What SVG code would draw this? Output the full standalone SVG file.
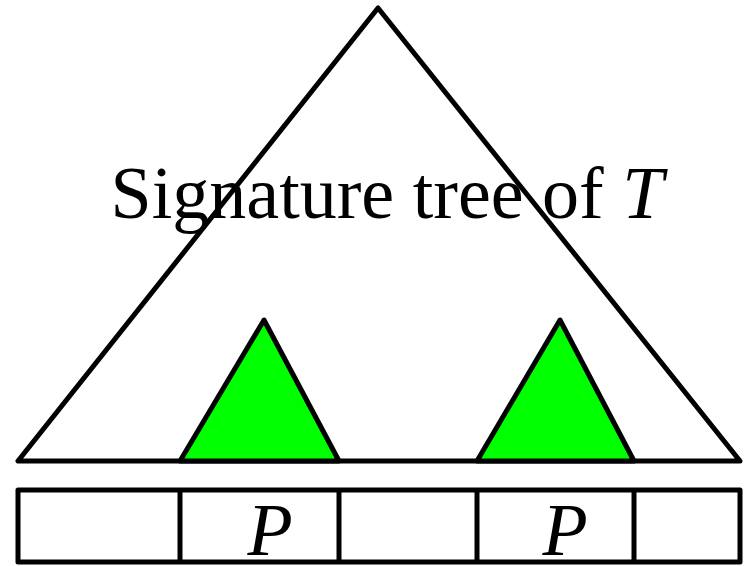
<svg xmlns="http://www.w3.org/2000/svg" width="747" height="566" viewBox="0 0 747 566">
<style>
.ln{fill:none;stroke:#000;stroke-width:5;stroke-linejoin:round}
.gr{fill:#00ff00;stroke:#000;stroke-width:5;stroke-linejoin:round}
.t{font-family:"Liberation Serif","Times New Roman",serif;fill:#000}
</style>
<rect width="747" height="566" fill="#fff"/>
<g id="big-tree">
<polygon class="ln" points="378,8 18,461 740,461" fill="#fff"/>
</g>
<g id="subtree-left">
<polygon class="gr" points="264,320 180,461 339,461"/>
</g>
<g id="subtree-right">
<polygon class="gr" points="560,320 477,461 634,461"/>
</g>
<g id="label">
<text class="t" x="387" y="218" font-size="74" text-anchor="middle">Signature tree of <tspan font-style="italic">T</tspan></text>
</g>
<g id="array">
<rect class="ln" x="18" y="490" width="722" height="72"/>
<line class="ln" x1="180" y1="490" x2="180" y2="562"/>
<line class="ln" x1="339" y1="490" x2="339" y2="562"/>
<line class="ln" x1="477" y1="490" x2="477" y2="562"/>
<line class="ln" x1="634" y1="490" x2="634" y2="562"/>
<text class="t" x="270" y="555" font-size="74" font-style="italic" text-anchor="middle">P</text>
<text class="t" x="565" y="555" font-size="74" font-style="italic" text-anchor="middle">P</text>
</g>
</svg>
